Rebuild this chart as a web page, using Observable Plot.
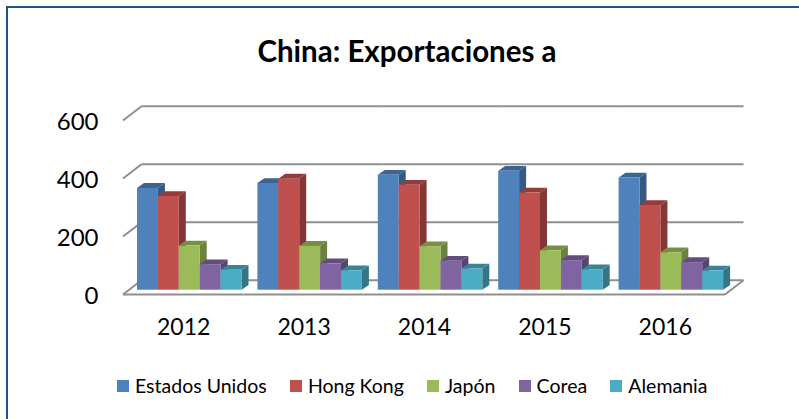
<!DOCTYPE html>
<html>
<head>
<meta charset="utf-8">
<script src="https://cdn.jsdelivr.net/npm/d3@7"></script>
<script src="https://cdn.jsdelivr.net/npm/@observablehq/plot@0.6"></script>
<style>
  html, body { margin: 0; padding: 0; background: #fff; overflow: hidden; }
  #page { position: relative; width: 799px; height: 419px; font-family: Lato, "Open Sans", sans-serif; color: #000; }
  #edge { position: absolute; left: 6px; top: 6px; right: 0; bottom: 0; border-top: 2px solid #24508a; border-left: 2px solid #24508a; pointer-events: none; }
  #title { position: absolute; left: 0; top: 0; width: 814px; height: 80px; line-height: 102px; text-align: center; font-size: 29.5px; font-weight: 700; }
  #chart { position: absolute; left: 0; top: 80px; }
  #chart svg { display: block; }
  #legend { position: absolute; left: 117px; top: 374px; display: flex; align-items: center; font-size: 19.5px; line-height: 24px; white-space: nowrap; }
  .item { display: flex; align-items: center; margin-right: 23.2px; }
  .swatch { width: 12px; height: 12px; margin-right: 6px; }
</style>
</head>
<body>
<div id="page">
  <div id="edge"></div>
  <div id="title">China: Exportaciones a</div>
  <div id="chart"></div>
  <div id="legend"></div>
</div>
<script>
const years = ["2012", "2013", "2014", "2015", "2016"];
const seriesNames = ["Estados Unidos", "Hong Kong", "Japón", "Corea", "Alemania"];
const seriesColors = ["#4f81bd", "#c0504d", "#9bbb59", "#8064a2", "#4bacc6"];
const estadosUnidos = [351, 368, 396, 410, 387];
const hongKong = [323, 383, 362, 335, 292];
const japon = [152, 151, 150, 136, 129];
const corea = [88, 91, 100, 102, 95];
const alemania = [69, 67, 73, 70, 66];
const yTicks = [0, 200, 400, 600];

const seriesValues = [estadosUnidos, hongKong, japon, corea, alemania];
const rows = seriesNames.flatMap((name, s) =>
  years.map((year, i) => ({year, series: name, value: seriesValues[s][i]}))
);

const plotWidth = 799, marginLeft = 123, marginRight = 74;
const gridColor = "#8f8f8f";
const wallDx = 18.5, wallDy = -14.3;   // depth of the chart floor
const barDx = 7, barDy = -4.8;         // depth of each bar

// Repeated marks render once per facet; the slanted edges are only wanted once.
let wallDone = false, floorDone = false;

// Adds the slanted wall edges on the left; the group is already shifted to the back plane.
function wallEdges(index, scales, values, dimensions, context, next) {
  const g = next(index, scales, values, dimensions, context);
  if (wallDone) return g;
  wallDone = true;
  const sel = d3.select(g);
  for (const i of index) {
    sel.append("line")
      .attr("x1", marginLeft - wallDx).attr("x2", marginLeft)
      .attr("y1", values.y[i] - wallDy).attr("y2", values.y[i]);
  }
  return g;
}
// Adds the slanted right edge of the floor to the front rule.
function floorEdge(index, scales, values, dimensions, context, next) {
  const g = next(index, scales, values, dimensions, context);
  if (floorDone) return g;
  floorDone = true;
  const xr = plotWidth - marginRight;
  for (const i of index) {
    d3.select(g).append("line")
      .attr("x1", xr).attr("x2", xr + wallDx)
      .attr("y1", values.y[i]).attr("y2", values.y[i] + wallDy);
  }
  return g;
}
// Extrudes every bar the library has drawn: side and top faces behind each front.
function extrude(index, scales, values, dimensions, context, next) {
  const g = next(index, scales, values, dimensions, context);
  d3.select(g).selectAll("rect").each(function () {
    const x = +this.getAttribute("x"), y = +this.getAttribute("y");
    const w = +this.getAttribute("width"), h = +this.getAttribute("height");
    const fill = this.getAttribute("fill");
    const side = document.createElementNS("http://www.w3.org/2000/svg", "polygon");
    side.setAttribute("points", [[x + w, y], [x + w + barDx, y + barDy], [x + w + barDx, y + h + barDy], [x + w, y + h]].join(" "));
    side.setAttribute("fill", d3.rgb(fill).darker(1.05).formatHex());
    const top = document.createElementNS("http://www.w3.org/2000/svg", "polygon");
    top.setAttribute("points", [[x, y], [x + barDx, y + barDy], [x + w + barDx, y + barDy], [x + w, y]].join(" "));
    top.setAttribute("fill", d3.rgb(fill).darker(0.75).formatHex());
    g.insertBefore(side, this);
    g.insertBefore(top, this);
  });
  return g;
}

const chart = Plot.plot({
  width: plotWidth,
  height: 270,
  marginTop: 40,
  marginBottom: 56,
  marginLeft,
  marginRight,
  style: {background: "transparent", fontFamily: "Lato, 'Open Sans', sans-serif", color: "#000"},
  fx: {domain: years, padding: 0, round: false, label: null},
  x: {domain: seriesNames, padding: 0, round: false, insetLeft: 14, insetRight: 1.9, axis: null},
  y: {domain: [0, 600], label: null},
  color: {domain: seriesNames, range: seriesColors},
  marks: [
    Plot.ruleY(yTicks, {stroke: gridColor, strokeWidth: 2, dx: wallDx, dy: wallDy, render: wallEdges}),
    Plot.ruleY([0], {stroke: gridColor, strokeWidth: 2, render: floorEdge}),
    Plot.barY(rows, {fx: "year", x: "series", y: "value", fill: "series", dy: -4.3, render: extrude}),
    Plot.axisY(yTicks, {anchor: "left", tickSize: 0, tickPadding: 25, fontSize: 24, dy: 2, tickFormat: "d", label: null}),
    Plot.axisFx({anchor: "bottom", tickSize: 0, tickPadding: 24, fontSize: 23, label: null})
  ]
});
document.getElementById("chart").appendChild(chart);

const legend = d3.select("#legend");
seriesNames.forEach((name, i) => {
  const item = legend.append("div").attr("class", "item");
  item.append("div").attr("class", "swatch").style("background", seriesColors[i]);
  item.append("div").text(name);
});
</script>
</body>
</html>
